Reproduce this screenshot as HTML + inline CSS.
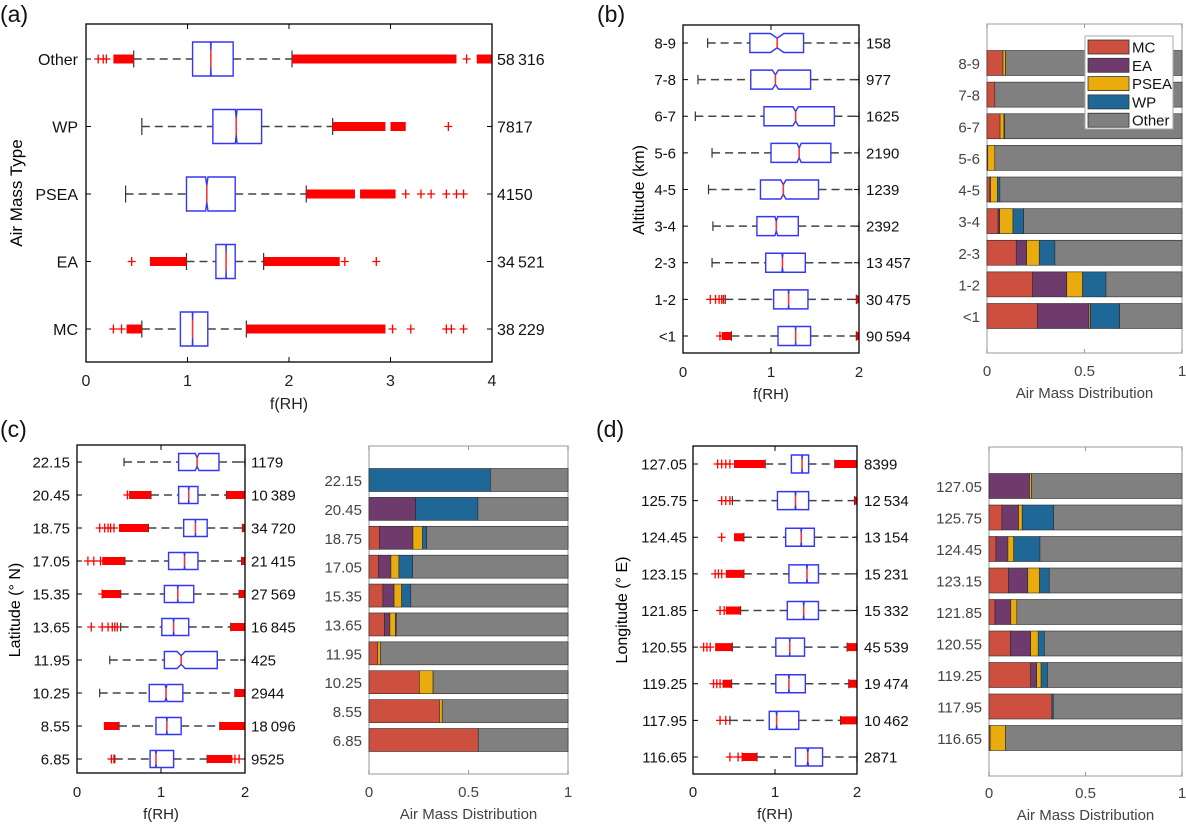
<!DOCTYPE html>
<html><head><meta charset="utf-8">
<style>
html,body{margin:0;padding:0;background:#fff;}
svg{display:block;font-family:"Liberation Sans",sans-serif;}
</style></head>
<body>
<svg id="fig" width="1186" height="824" viewBox="0 0 1186 824" xmlns="http://www.w3.org/2000/svg"></svg>
<script>
// ---------- Panel (a) data ----------
const aCats = ["Other","WP","PSEA","EA","MC"];
const aWlo = [0.47,0.55,0.39,0.99,0.55];
const aQ1 = [1.05,1.25,0.99,1.28,0.93];
const aMed = [1.23,1.48,1.19,1.38,1.05];
const aQ3 = [1.45,1.73,1.47,1.47,1.20];
const aWhi = [2.03,2.43,2.17,1.75,1.58];
const aCounts = [58316,7817,4150,34521,38229];
const aDense = [[[0.27,0.47],[2.03,3.65],[3.85,4.0]],[[2.43,2.95],[3.0,3.15]],[[2.17,2.65],[2.7,3.05]],[[0.63,0.99],[1.75,2.5]],[[0.4,0.55],[1.58,2.95]]];
const aPts = [[0.12,0.17,0.2,3.75],[3.57],[3.15,3.3,3.4,3.55,3.65,3.72],[0.45,2.55,2.86],[0.27,0.35,3.02,3.2,3.55,3.6,3.72]];
const aTicks = [0,1,2,3,4];

// ---------- Panel (b) data ----------
const bCats = ["8-9","7-8","6-7","5-6","4-5","3-4","2-3","1-2","<1"];
const bWlo = [0.28,0.17,0.14,0.33,0.29,0.34,0.33,0.48,0.55];
const bQ1 = [0.76,0.77,0.92,1.00,0.88,0.84,0.94,1.03,1.08];
const bMed = [1.07,1.05,1.28,1.32,1.14,1.06,1.13,1.20,1.28];
const bQ3 = [1.37,1.45,1.72,1.68,1.54,1.31,1.39,1.42,1.45];
const bWhi = [2,2,2,2,2,2,2,1.97,1.97];
const bCounts = [158,977,1625,2190,1239,2392,13457,30475,90594];
const bDense = [[],[],[],[],[],[],[],[[1.97,2.0]],[[0.44,0.55],[1.97,2.0]]];
const bPts = [[],[],[],[],[],[],[],[0.31,0.37,0.41,0.44,0.46],[0.42]];
const bTicks = [0,1,2];
const bMC = [0.082,0.04,0.067,0.004,0.015,0.057,0.15,0.234,0.259];
const bEA = [0,0,0,0,0.003,0.008,0.053,0.175,0.264];
const bPSEA = [0.013,0,0.02,0.036,0.035,0.068,0.065,0.081,0.007];
const bWP = [0,0,0.003,0,0.013,0.055,0.08,0.12,0.15];

// ---------- Panel (c) data ----------
const cCats = ["22.15","20.45","18.75","17.05","15.35","13.65","11.95","10.25","8.55","6.85"];
const cWlo = [0.56,0.88,0.85,0.57,0.52,0.52,0.39,0.27,0.50,0.45];
const cQ1 = [1.21,1.21,1.27,1.09,1.04,1.01,1.04,0.86,0.94,0.87];
const cMed = [1.43,1.33,1.41,1.28,1.20,1.15,1.24,1.06,1.07,0.94];
const cQ3 = [1.69,1.44,1.55,1.44,1.39,1.33,1.67,1.26,1.24,1.15];
const cWhi = [2,1.78,1.97,1.96,1.93,1.83,2,1.88,1.70,1.55];
const cCounts = [1179,10389,34720,21415,27569,16845,425,2944,18096,9525];
const cDense = [[],[[0.62,0.88],[1.78,2.0]],[[0.5,0.85],[1.97,2.0]],[[0.3,0.57],[1.96,2.0]],[[0.3,0.52],[1.93,2.0]],[[1.83,2.0]],[],[[1.88,2.0]],[[0.32,0.5],[1.7,2.0]],[[1.55,1.85]]];
const cPts = [[],[0.6],[0.27,0.33,0.37,0.4,0.44],[0.13,0.2,0.28],[0.3],[0.17,0.3,0.37,0.42,0.45,0.48],[],[],[],[0.41,0.44,1.88,1.93]];
const cTicks = [0,1,2];
const cMC = [0,0,0.053,0.048,0.07,0.078,0.044,0.253,0.354,0.549];
const cEA = [0,0.234,0.168,0.062,0.056,0.027,0,0,0,0];
const cPSEA = [0,0,0.048,0.04,0.038,0.028,0.013,0.069,0.014,0];
const cWP = [0.61,0.313,0.021,0.069,0.046,0.004,0,0,0,0];

// ---------- Panel (d) data ----------
const dCats = ["127.05","125.75","124.45","123.15","121.85","120.55","119.25","117.95","116.65"];
const dWlo = [0.88,0.48,0.62,0.62,0.58,0.48,0.47,0.45,0.78];
const dQ1 = [1.20,1.03,1.13,1.17,1.15,1.01,1.01,0.93,1.25];
const dMed = [1.33,1.25,1.32,1.39,1.35,1.18,1.17,1.02,1.40];
const dQ3 = [1.41,1.41,1.48,1.53,1.53,1.36,1.37,1.29,1.58];
const dWhi = [1.73,1.97,2,2,2,1.88,1.90,1.80,2];
const dCounts = [8399,12534,13154,15231,15332,45539,19474,10462,2871];
const dDense = [[[0.5,0.88],[1.73,2.0]],[[1.97,2.0]],[[0.5,0.62]],[[0.4,0.62]],[[0.4,0.58]],[[0.27,0.48],[1.88,2.0]],[[0.36,0.47],[1.9,2.0]],[[1.8,2.0]],[[0.6,0.78]]];
const dPts = [[0.3,0.35,0.4,0.45],[0.35,0.4,0.45],[0.35],[0.27,0.31,0.35],[0.33,0.38],[0.13,0.17,0.21],[0.25,0.29,0.33],[0.33,0.4],[0.45,0.55,0.6]];
const dTicks = [0,1,2];
const dMC = [0,0.067,0.036,0.1,0.031,0.111,0.216,0.326,0.006];
const dEA = [0.21,0.086,0.062,0.101,0.082,0.105,0.031,0,0];
const dPSEA = [0.01,0.019,0.03,0.061,0.031,0.039,0.023,0,0.08];
const dWP = [0,0.163,0.136,0.05,0,0.032,0.033,0.007,0];

const barTicks = [0,0.5,1];
const legendNames = ["MC","EA","PSEA","WP","Other"];
const COLORS = ["#CD4F3F","#6E3B6C","#E9AC0C","#1E6797","#808080"];

const svg = document.getElementById('fig');
const NS = 'http://www.w3.org/2000/svg';
function mk(tag, attrs, parent){
  const e = document.createElementNS(NS, tag);
  for (const k in attrs) e.setAttribute(k, attrs[k]);
  (parent||svg).appendChild(e);
  return e;
}
function txt(s, x, y, size, anchor, fill, parent){
  const t = mk('text',{x:x,y:y,'font-size':size,'text-anchor':anchor||'start',fill:fill||'#000'},parent);
  t.textContent = s;
  return t;
}
function fmt(n){ const s=String(n); return n>=10000 ? s.slice(0,s.length-3)+'\u2009'+s.slice(-3) : s; }

function boxPanel(id, L, cats, wlo, q1, med, q3, whi, counts, dense, pts, ticks){
  const g = mk('g',{});
  
  
  const xs = v => L.x0 + (L.x1-L.x0)*v/L.xmax;
  const ys = i => L.yFirst + (L.yLast-L.yFirst)*i/(cats.length-1);
  const fs = L.fs;
  // ticks & frame
  ticks.forEach(t=>{
    const tx = xs(t);
    mk('line',{x1:tx,x2:tx,y1:L.bot,y2:L.bot-5,stroke:'#000','stroke-width':1},g);
    mk('line',{x1:tx,x2:tx,y1:L.top,y2:L.top+5,stroke:'#000','stroke-width':1},g);
    const tl = txt(String(t), tx, L.tickY, fs, 'middle', '#222', g);
    
    
  });
  cats.forEach((c,i)=>{
    const y = ys(i);
    mk('line',{x1:L.x0,x2:L.x0+5,y1:y,y2:y,stroke:'#000'},g);
    mk('line',{x1:L.x1,x2:L.x1-5,y1:y,y2:y,stroke:'#000'},g);
    const cl = txt(c, L.catX, y+fs*0.36, fs, 'end', '#111', g);
    
    
    const nl = txt(fmt(counts[i]), L.countX, y+fs*0.36, fs, 'start', '#111', g);
    
    
    const h = L.hh;
    // whiskers
    mk('line',{x1:xs(wlo[i]),x2:xs(q1[i]),y1:y,y2:y,stroke:'#444','stroke-width':1.6,'stroke-dasharray':'8 5'},g);
    mk('line',{x1:xs(q3[i]),x2:xs(whi[i]),y1:y,y2:y,stroke:'#444','stroke-width':1.6,'stroke-dasharray':'8 5'},g);
    mk('line',{x1:xs(wlo[i]),x2:xs(wlo[i]),y1:y-h*0.5,y2:y+h*0.5,stroke:'#333','stroke-width':1.2},g);
    mk('line',{x1:xs(whi[i]),x2:xs(whi[i]),y1:y-h*0.5,y2:y+h*0.5,stroke:'#333','stroke-width':1.2},g);
    // outliers
    dense[i].forEach(r=>{
      const o = mk('rect',{x:xs(r[0]),y:y-L.oh,width:Math.max(2,xs(r[1])-xs(r[0])),height:L.oh*2,fill:'#f00'},g);
      
      
    });
    pts[i].forEach(p=>{
      const px = xs(p);
      mk('path',{d:`M${px-4},${y}H${px+4}M${px},${y-4.5}V${y+4.5}`,stroke:'#f00','stroke-width':1.3,fill:'none'},g);
    });
    // notched box
    let n = 1.57*(q3[i]-q1[i])/Math.sqrt(counts[i]);
    n = Math.min(n, med[i]-q1[i], q3[i]-med[i]);
    const a=xs(q1[i]), b=xs(med[i]-n), m=xs(med[i]), d=xs(med[i]+n), e=xs(q3[i]);
    const t=y-h, bo=y+h, ni=h*0.5;
    const bx = mk('polygon',{points:`${a},${t} ${b},${t} ${m},${t+ni} ${d},${t} ${e},${t} ${e},${bo} ${d},${bo} ${m},${bo-ni} ${b},${bo} ${a},${bo}`,fill:'#fff',stroke:'#3535f5','stroke-width':1.4},g);
    
    
    mk('line',{x1:m,x2:m,y1:t+ni,y2:bo-ni,stroke:'#f33','stroke-width':1.6},g);
  });
  mk('rect',{x:L.x0,y:L.top,width:L.x1-L.x0,height:L.bot-L.top,fill:'none',stroke:'#000','stroke-width':1.3},g);
  const xl = txt('f(RH)', (L.x0+L.x1)/2, L.xlabY, fs, 'middle', '#222', g);
  
  
  const yl = txt(L.ylab, 0, 0, fs+1, 'middle', '#000', g);
  yl.setAttribute('transform', `translate(${L.ylx},${L.yly}) rotate(-90)`);
  
  
}

function barPanel(id, L, cats, series){
  const g = mk('g',{});
  
  
  const xs = v => L.x0 + (L.x1-L.x0)*v;
  const ys = i => L.yFirst + (L.yLast-L.yFirst)*i/(cats.length-1);
  mk('rect',{x:L.x0,y:L.top,width:L.x1-L.x0,height:L.bot-L.top,fill:'#fff',stroke:'#bbb','stroke-width':1.5},g);
  cats.forEach((c,i)=>{
    const y = ys(i);
    let acc = 0;
    series.forEach((s,k)=>{
      const v = k<4 ? s[i] : Math.max(0,1-acc);
      const r = mk('rect',{x:xs(acc),y:y-L.bh/2,width:Math.max(0,xs(acc+v)-xs(acc)),height:L.bh,fill:COLORS[k],stroke:'#2a2a2a','stroke-width':0.6},g);
      
      
      acc += v;
    });
    const cl = txt(c, L.catX, y+6, 15, 'end', '#444', g);
    
    
  });
  barTicks.forEach(t=>{
    const tx = xs(t);
    mk('line',{x1:tx,x2:tx,y1:L.top,y2:L.top+4,stroke:'#999'},g);
    mk('line',{x1:tx,x2:tx,y1:L.bot,y2:L.bot-4,stroke:'#999'},g);
    const tl = txt(String(t), tx, L.tickY, 15, 'middle', '#444', g);
    
    
  });
  const xl = txt('Air Mass Distribution', (L.x0+L.x1)/2, L.xlabY, 15, 'middle', '#444', g);
  
  
  return g;
}

// panel labels
[["(a)",0,22],["(b)",597,22],["(c)",0,437],["(d)",596,437]].forEach(p=>{
  const t = txt(p[0], p[1], p[2], 23, 'start', '#111');
  
  
});

boxPanel('panel-a',{x0:86,x1:492,xmax:4,top:24,bot:362,yFirst:59,yLast:329,hh:17,oh:4.5,fs:16,tickY:386,xlabY:409,countX:497,catX:78,ylab:'Air Mass Type',ylx:22,yly:193},
  aCats,aWlo,aQ1,aMed,aQ3,aWhi,aCounts,aDense,aPts,aTicks);
boxPanel('panel-b',{x0:683,x1:859,xmax:2,top:25,bot:353,yFirst:43,yLast:336,hh:9.5,oh:4,fs:15,tickY:377,xlabY:399,countX:866,catX:676,ylab:'Altitude (km)',ylx:644,yly:190},
  bCats,bWlo,bQ1,bMed,bQ3,bWhi,bCounts,bDense,bPts,bTicks);
const gb = barPanel('panel-b',{x0:987,x1:1182,top:24,bot:353,yFirst:63,yLast:316,bh:25,catX:980,tickY:376,xlabY:398},bCats,[bMC,bEA,bPSEA,bWP,null]);
boxPanel('panel-c',{x0:77,x1:245,xmax:2,top:445,bot:773,yFirst:462,yLast:759,hh:8.5,oh:4,fs:15,tickY:797,xlabY:819,countX:251,catX:70,ylab:'Latitude (\u00B0 N)',ylx:20,yly:610},
  cCats,cWlo,cQ1,cMed,cQ3,cWhi,cCounts,cDense,cPts,cTicks);
barPanel('panel-c',{x0:369,x1:568,top:446,bot:774,yFirst:480,yLast:740,bh:23,catX:362,tickY:797,xlabY:819},cCats,[cMC,cEA,cPSEA,cWP,null]);
boxPanel('panel-d',{x0:693,x1:857,xmax:2,top:446,bot:774,yFirst:464,yLast:757,hh:9,oh:4,fs:15,tickY:797,xlabY:819,countX:864,catX:687,ylab:'Longitude (\u00B0 E)',ylx:627,yly:610},
  dCats,dWlo,dQ1,dMed,dQ3,dWhi,dCounts,dDense,dPts,dTicks);
barPanel('panel-d',{x0:989,x1:1182,top:447,bot:776,yFirst:486,yLast:738,bh:25,catX:982,tickY:798,xlabY:820},dCats,[dMC,dEA,dPSEA,dWP,null]);

// legend for panel b
const lg = mk('g',{});


mk('rect',{x:1085,y:36,width:88,height:93,fill:'#fff',stroke:'#aaa','stroke-width':1},lg);
legendNames.forEach((nm,k)=>{
  const y = 47 + k*18.3;
  const e = mk('g',{},lg);
  
  
  mk('rect',{x:1088,y:y-7,width:41,height:14,fill:COLORS[k],stroke:'#333','stroke-width':0.8},e);
  txt(nm, 1132, y+5.5, 15, 'start', '#111', e);
});
</script>
</body></html>
